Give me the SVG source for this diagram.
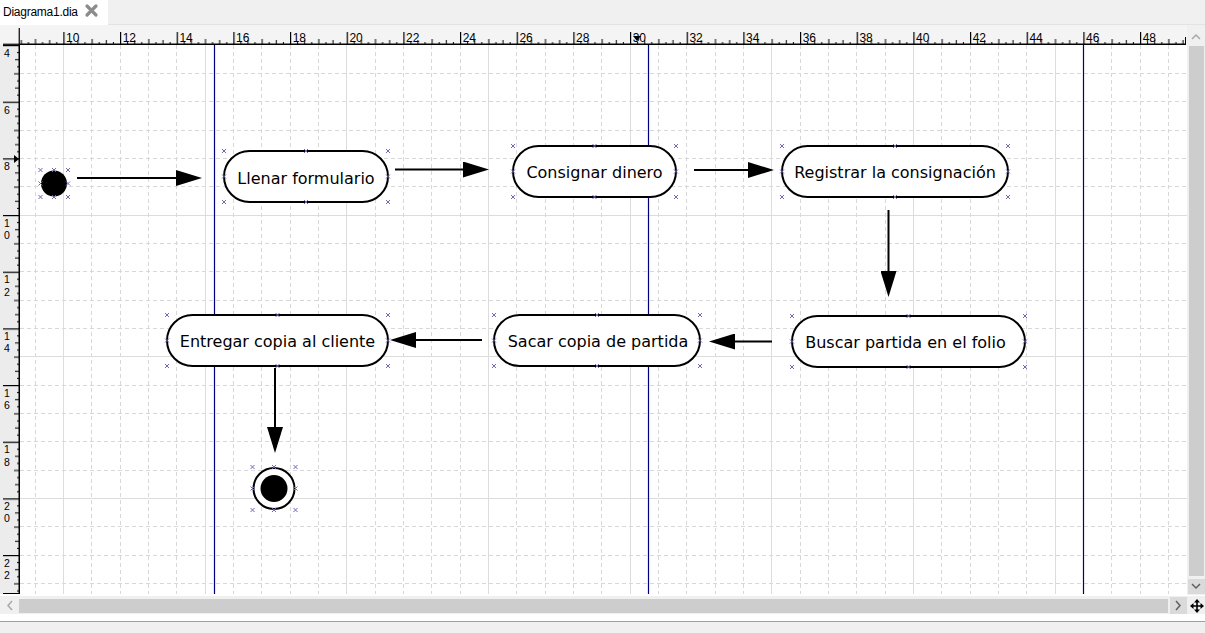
<svg xmlns="http://www.w3.org/2000/svg" xmlns:xlink="http://www.w3.org/1999/xlink" width="1205" height="633" viewBox="0 0 1205 633">
<style>
.gmin{stroke:#d8d8d8;stroke-width:1;stroke-dasharray:4 3;fill:none}
.gmaj{stroke:#dcdcdc;stroke-width:1;fill:none}
.lane{stroke:#000080;stroke-width:1.2}
.pill{fill:#fff;stroke:#000;stroke-width:2}
.lbl{font-family:"DejaVu Sans","Liberation Sans",sans-serif;font-size:16px;text-anchor:middle;fill:#000}
.cp{stroke:#6a6ab8;stroke-width:1;fill:none}
.conn{stroke:#000;stroke-width:2;fill:none;marker-end:url(#arr)}
.rl{font-family:"Liberation Sans","DejaVu Sans",sans-serif;font-size:12px;fill:#000}
.vl{font-family:"Liberation Sans","DejaVu Sans",sans-serif;font-size:10.5px;fill:#000}
</style>
<defs>
<marker id="arr" viewBox="0 -8 26 16" refX="0" refY="0" markerWidth="26" markerHeight="16" markerUnits="userSpaceOnUse" orient="auto">
<path d="M0,-8 L26,0 L0,8 Z" fill="#000"/>
</marker>
<path id="cp" class="cp" d="M-2,-2 L2,2 M2,-2 L-2,2"/>
<pattern id="hticks" patternUnits="userSpaceOnUse" x="63.333" y="25" width="56.667" height="20">
<rect x="0" y="7" width="1.2" height="12" fill="#000"/>
<rect x="7.08" y="17" width="1" height="2" fill="#000"/>
<rect x="14.17" y="15" width="1" height="4" fill="#000"/>
<rect x="21.25" y="17" width="1" height="2" fill="#000"/>
<rect x="28.33" y="14" width="1" height="5" fill="#000"/>
<rect x="35.42" y="17" width="1" height="2" fill="#000"/>
<rect x="42.5" y="15" width="1" height="4" fill="#000"/>
<rect x="49.58" y="17" width="1" height="2" fill="#000"/>
</pattern>
<pattern id="vticks" patternUnits="userSpaceOnUse" x="0" y="215" width="20" height="56.667">
<rect x="3" y="0" width="16" height="1.2" fill="#000"/>
<rect x="17" y="7.08" width="2" height="1" fill="#000"/>
<rect x="15" y="14.17" width="4" height="1" fill="#000"/>
<rect x="17" y="21.25" width="2" height="1" fill="#000"/>
<rect x="14" y="28.33" width="5" height="1" fill="#000"/>
<rect x="17" y="35.42" width="2" height="1" fill="#000"/>
<rect x="15" y="42.5" width="4" height="1" fill="#000"/>
<rect x="17" y="49.58" width="2" height="1" fill="#000"/>
</pattern>
</defs>

<!-- window chrome -->
<g id="chrome">
<rect x="0" y="0" width="1205" height="633" fill="#ffffff"/>
<rect x="0" y="0" width="1205" height="24" fill="#f0f0f0"/>
<rect x="0" y="0" width="108" height="24" fill="#ffffff"/>
<line x1="108" y1="24.5" x2="1205" y2="24.5" stroke="#e3e3e3"/>
<text x="3" y="16" font-family="Liberation Sans, DejaVu Sans, sans-serif" font-size="12" fill="#000" textLength="75">Diagrama1.dia</text>
<path d="M87,6 L96,15 M96,6 L87,15" stroke="#8c8c8c" stroke-width="3.2" stroke-linecap="round"/>
</g>

<!-- canvas and grid -->
<g id="canvas">
<rect x="20" y="45" width="1167" height="550" fill="#ffffff"/>
<path class="gmin" d="M35.5,45V594 M91.5,45V594 M120.5,45V594 M148.5,45V594 M176.5,45V594 M233.5,45V594 M261.5,45V594 M290.5,45V594 M318.5,45V594 M375.5,45V594 M403.5,45V594 M431.5,45V594 M460.5,45V594 M516.5,45V594 M545.5,45V594 M573.5,45V594 M601.5,45V594 M658.5,45V594 M686.5,45V594 M715.5,45V594 M743.5,45V594 M800.5,45V594 M828.5,45V594 M856.5,45V594 M885.5,45V594 M941.5,45V594 M970.5,45V594 M998.5,45V594 M1026.5,45V594 M1083.5,45V594 M1111.5,45V594 M1140.5,45V594 M1168.5,45V594"/>
<path class="gmin" d="M20,73.5H1187 M20,101.5H1187 M20,130.5H1187 M20,158.5H1187 M20,186.5H1187 M20,243.5H1187 M20,271.5H1187 M20,300.5H1187 M20,328.5H1187 M20,385.5H1187 M20,413.5H1187 M20,441.5H1187 M20,470.5H1187 M20,526.5H1187 M20,555.5H1187 M20,583.5H1187"/>
<path class="gmaj" d="M63.5,45V594 M205.5,45V594 M346.5,45V594 M488.5,45V594 M630.5,45V594 M771.5,45V594 M913.5,45V594 M1055.5,45V594 M20,215.5H1187 M20,356.5H1187 M20,498.5H1187"/>
<line class="lane" x1="214.5" y1="45" x2="214.5" y2="594"/>
<line class="lane" x1="648.5" y1="45" x2="648.5" y2="594"/>
<line class="lane" x1="1083.5" y1="45" x2="1083.5" y2="594"/>
</g>

<!-- rulers -->
<g id="rulers">
<rect x="0" y="25" width="1187" height="20" fill="#f4f4f4"/>
<rect x="20" y="25" width="1166" height="20" fill="url(#hticks)"/>
<line x1="20" y1="44.25" x2="1186" y2="44.25" stroke="#000" stroke-width="1.5"/>
<line x1="1185.5" y1="37" x2="1185.5" y2="45" stroke="#000" stroke-width="1"/>
<g class="rl">
<text x="66" y="42">10</text><text x="122.7" y="42">12</text><text x="179.4" y="42">14</text><text x="236" y="42">16</text><text x="292.7" y="42">18</text><text x="349.4" y="42">20</text><text x="406" y="42">22</text><text x="462.7" y="42">24</text><text x="519.4" y="42">26</text><text x="576" y="42">28</text><text x="632.7" y="42">30</text><text x="689.4" y="42">32</text><text x="746" y="42">34</text><text x="802.7" y="42">36</text><text x="859.4" y="42">38</text><text x="916" y="42">40</text><text x="972.7" y="42">42</text><text x="1029.4" y="42">44</text><text x="1086" y="42">46</text><text x="1142.7" y="42">48</text>
</g>
<path d="M633,36 L641,36 L637,41 Z" fill="#000"/>
<rect x="0" y="45" width="20" height="549" fill="#ececec"/>
<rect x="0" y="45" width="20" height="549" fill="url(#vticks)"/>
<line x1="19.25" y1="45" x2="19.25" y2="594" stroke="#000" stroke-width="1.5"/>
<line x1="3" y1="593.5" x2="20" y2="593.5" stroke="#000" stroke-width="1"/>
<line x1="3" y1="44.25" x2="20" y2="44.25" stroke="#000" stroke-width="1.2"/>
<line x1="19.25" y1="28" x2="19.25" y2="45" stroke="#000" stroke-width="1.2"/>
<path d="M14,155 L19,159 L14,163 Z" fill="#000"/>
<g class="vl">
<text x="4" y="57">4</text>
<text x="4" y="113.7">6</text>
<text x="4" y="170.3">8</text>
<text x="4" y="226.5">1</text><text x="4" y="239">0</text>
<text x="4" y="283.2">1</text><text x="4" y="295.7">2</text>
<text x="4" y="339.8">1</text><text x="4" y="352.3">4</text>
<text x="4" y="396.5">1</text><text x="4" y="409">6</text>
<text x="4" y="453.2">1</text><text x="4" y="465.7">8</text>
<text x="4" y="509.8">2</text><text x="4" y="522.3">0</text>
<text x="4" y="566.5">2</text><text x="4" y="579">2</text>
</g>
</g>

<!-- scrollbars -->
<g id="scrollbars">
<rect x="1187" y="25" width="18" height="570" fill="#f0f0f0"/>
<polyline points="1192,39 1196,35 1200,39" fill="none" stroke="#a8a8a8" stroke-width="1.5"/>
<rect x="1189" y="46" width="15" height="530" fill="#cdcdcd"/>
<rect x="1188" y="579" width="17" height="15" fill="#dadada"/>
<polyline points="1192,584 1196,588 1200,584" fill="none" stroke="#606060" stroke-width="1.5"/>
<rect x="0" y="596" width="1205" height="18" fill="#f0f0f0"/>
<polyline points="12,601 8,605.5 12,610" fill="none" stroke="#a8a8a8" stroke-width="1.5"/>
<rect x="19" y="599" width="1149" height="14" fill="#cdcdcd"/>
<rect x="1170" y="597" width="17" height="17" fill="#dadada"/>
<polyline points="1176,601 1180,605.5 1176,610" fill="none" stroke="#606060" stroke-width="1.5"/>
<path d="M1197,599 L1200,602.5 L1194,602.5 Z M1197,613 L1200,609.5 L1194,609.5 Z M1190,606 L1193.5,603 L1193.5,609 Z M1204,606 L1200.5,603 L1200.5,609 Z" fill="#000"/>
<path d="M1197,601 V611 M1192,606 H1202" stroke="#000" stroke-width="1.6"/>
<rect x="0" y="614" width="1205" height="7" fill="#ffffff"/>
<line x1="0" y1="621.5" x2="1205" y2="621.5" stroke="#a0a0a0"/>
<rect x="0" y="622" width="1205" height="11" fill="#f0f0f0"/>
</g>

<!-- connectors -->
<g id="connectors">
<line class="conn" x1="77" y1="178" x2="176" y2="178"/>
<line class="conn" x1="395" y1="169.5" x2="463" y2="169.5"/>
<line class="conn" x1="694" y1="170" x2="748" y2="170"/>
<line class="conn" x1="888.5" y1="210" x2="888.5" y2="271"/>
<line class="conn" x1="772" y1="341.5" x2="735" y2="341.5"/>
<line class="conn" x1="482" y1="340" x2="416" y2="340"/>
<line class="conn" x1="275" y1="368" x2="275" y2="427"/>
</g>

<!-- nodes -->
<g id="start">
<circle cx="54" cy="183.5" r="13" fill="#000"/>
<use href="#cp" x="40.5" y="170"/><use href="#cp" x="54" y="170"/><use href="#cp" x="68" y="170"/>
<use href="#cp" x="40.5" y="183.5"/><use href="#cp" x="68" y="183.5"/>
<use href="#cp" x="40.5" y="197"/><use href="#cp" x="54" y="197"/><use href="#cp" x="68" y="197"/>
</g>

<g id="llenar">
<rect class="pill" x="224" y="151" width="164" height="51" rx="25.5"/>
<text class="lbl" x="306" y="183.5">Llenar formulario</text>
<use href="#cp" x="224" y="151"/><use href="#cp" x="306" y="151"/><use href="#cp" x="388" y="151"/>
<use href="#cp" x="224" y="176.5"/><use href="#cp" x="388" y="176.5"/>
<use href="#cp" x="224" y="202"/><use href="#cp" x="306" y="202"/><use href="#cp" x="388" y="202"/>
</g>

<g id="consignar">
<rect class="pill" x="513" y="146" width="163" height="51" rx="25.5"/>
<text class="lbl" x="594.5" y="178">Consignar dinero</text>
<use href="#cp" x="513" y="146"/><use href="#cp" x="594.5" y="146"/><use href="#cp" x="676" y="146"/>
<use href="#cp" x="513" y="171.5"/><use href="#cp" x="676" y="171.5"/>
<use href="#cp" x="513" y="197"/><use href="#cp" x="594.5" y="197"/><use href="#cp" x="676" y="197"/>
</g>

<g id="registrar">
<rect class="pill" x="782" y="146" width="226" height="51" rx="25.5"/>
<text class="lbl" x="895" y="178">Registrar la consignación</text>
<use href="#cp" x="782" y="146"/><use href="#cp" x="895" y="146"/><use href="#cp" x="1008" y="146"/>
<use href="#cp" x="782" y="171.5"/><use href="#cp" x="1008" y="171.5"/>
<use href="#cp" x="782" y="197"/><use href="#cp" x="895" y="197"/><use href="#cp" x="1008" y="197"/>
</g>

<g id="buscar">
<rect class="pill" x="792" y="316" width="233" height="51" rx="25.5"/>
<text class="lbl" x="905.5" y="348.3">Buscar partida en el folio</text>
<use href="#cp" x="792" y="316"/><use href="#cp" x="908.5" y="316"/><use href="#cp" x="1025" y="316"/>
<use href="#cp" x="792" y="341.5"/><use href="#cp" x="1025" y="341.5"/>
<use href="#cp" x="792" y="367"/><use href="#cp" x="908.5" y="367"/><use href="#cp" x="1025" y="367"/>
</g>

<g id="sacar">
<rect class="pill" x="494" y="315" width="206" height="51" rx="25.5"/>
<text class="lbl" x="598" y="347">Sacar copia de partida</text>
<use href="#cp" x="494" y="315"/><use href="#cp" x="597" y="315"/><use href="#cp" x="700" y="315"/>
<use href="#cp" x="494" y="340.5"/><use href="#cp" x="700" y="340.5"/>
<use href="#cp" x="494" y="366"/><use href="#cp" x="597" y="366"/><use href="#cp" x="700" y="366"/>
</g>

<g id="entregar">
<rect class="pill" x="167" y="315" width="221" height="51" rx="25.5"/>
<text class="lbl" x="277.5" y="347">Entregar copia al cliente</text>
<use href="#cp" x="167" y="315"/><use href="#cp" x="277.5" y="315"/><use href="#cp" x="388" y="315"/>
<use href="#cp" x="167" y="340.5"/><use href="#cp" x="388" y="340.5"/>
<use href="#cp" x="167" y="366"/><use href="#cp" x="277.5" y="366"/><use href="#cp" x="388" y="366"/>
</g>

<g id="end">
<circle cx="274" cy="488.5" r="20.5" fill="#fff" stroke="#000" stroke-width="2"/>
<circle cx="274" cy="488.5" r="13.5" fill="#000"/>
<use href="#cp" x="252.5" y="467"/><use href="#cp" x="274" y="467"/><use href="#cp" x="295.5" y="467"/>
<use href="#cp" x="252.5" y="488.5"/><use href="#cp" x="295.5" y="488.5"/>
<use href="#cp" x="252.5" y="510"/><use href="#cp" x="274" y="510"/><use href="#cp" x="295.5" y="510"/>
</g>
</svg>
